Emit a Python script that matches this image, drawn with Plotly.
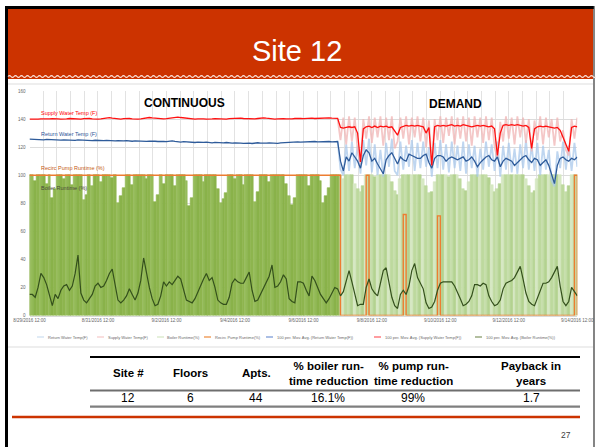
import pandas as pd
import plotly.graph_objects as go

W, H = 596, 447

# 2-hour samples, 8/29/2016 12:00 -> 9/14/2016 12:00 (one row = one day)
START = "2016-08-29 12:00"
N_POINTS = 193
SWITCH = "2016-09-07 12:00"   # continuous -> demand

supply_ma = [
    140.0, 139.8, 140.1, 139.9, 140.2, 140.0, 139.8, 140.1, 140.3, 140.5, 140.2, 140.0,
    139.9, 140.1, 140.4, 140.2, 140.0, 139.8, 140.0, 140.3, 140.6, 140.4, 140.1, 139.9,
    140.0, 140.2, 140.5, 140.8, 141.0, 140.7, 140.4, 140.1, 140.0, 140.3, 140.6, 140.4,
    140.1, 139.9, 140.0, 140.2, 140.6, 140.9, 141.1, 140.8, 140.5, 140.2, 140.0, 140.1,
    140.3, 140.6, 140.9, 141.2, 141.4, 141.1, 140.8, 140.5, 140.3, 140.1, 140.0, 140.2,
    140.4, 140.2, 140.0, 139.9, 140.1, 140.3, 140.2, 140.0, 139.8, 140.0, 140.3, 140.5,
    140.8, 141.0, 140.7, 140.4, 140.2, 140.0, 139.9, 140.1, 140.4, 140.7, 140.9, 140.6,
    140.3, 140.1, 140.0, 140.2, 140.5, 140.3, 140.1, 140.0, 140.2, 140.4, 140.6, 140.5,
    140.3, 140.5, 140.8, 140.6, 140.4, 140.5, 140.7, 140.9, 141.0, 140.8, 140.6, 140.5,
    140.5, 134.0, 133.5, 134.0, 134.5, 134.0, 134.5, 130.0, 109.5, 133.0, 134.5, 135.0,
    134.0, 135.0, 134.0, 135.0, 134.5, 135.0, 134.0, 134.5, 131.0, 128.5, 134.0, 135.0,
    135.5, 135.0, 135.5, 135.0, 135.5, 135.0, 134.5, 130.0, 134.0, 107.0, 134.5, 135.5,
    135.0, 135.5, 135.0, 135.5, 136.0, 135.0, 135.5, 135.0, 136.0, 135.5, 135.0, 134.5,
    135.0, 135.5, 135.0, 135.5, 135.0, 134.5, 135.0, 133.0, 114.0, 130.0, 135.5, 136.0,
    135.5, 136.0, 135.5, 136.0, 135.5, 135.0, 135.5, 134.0, 119.0, 133.0, 134.5, 135.0,
    134.5, 135.0, 134.5, 134.0, 133.5, 134.0, 132.0, 127.0, 122.0, 117.0, 134.0, 135.0,
    134.5,
]

return_ma = [
    125.7, 125.5, 125.6, 125.3, 125.4, 125.2, 125.5, 125.3, 125.1, 125.4, 125.2, 125.0,
    125.1, 124.9, 125.2, 125.0, 124.8, 125.1, 124.9, 124.7, 125.0, 124.8, 124.6, 124.9,
    124.7, 124.9, 124.6, 124.8, 124.5, 124.7, 124.4, 124.6, 124.3, 124.5, 124.7, 124.4,
    124.2, 124.5, 124.3, 124.6, 124.4, 124.1, 124.3, 124.5, 124.2, 124.0, 124.3, 124.1,
    123.9, 124.2, 124.4, 124.1, 123.8, 123.6, 123.9, 123.7, 123.4, 123.6, 123.3, 123.5,
    123.2, 123.4, 123.6, 123.3, 123.1, 123.4, 123.2, 122.9, 123.1, 123.3, 123.0, 122.8,
    123.0, 123.2, 122.9, 122.7, 123.0, 122.8, 122.6, 122.9, 123.1, 122.8, 122.6, 122.9,
    123.1, 122.8, 122.5, 122.7, 123.0, 123.2, 123.4, 123.1, 123.3, 123.6, 123.8, 123.5,
    123.7, 123.9, 123.6, 123.8, 124.0, 123.7, 123.9, 124.1, 123.8, 124.0, 123.7, 123.9,
    124.0, 110, 103, 113, 110, 116, 113, 110, 105, 114, 118, 116,
    110, 112, 108, 104, 101, 111, 114, 116, 112, 108, 113, 111,
    110, 115, 114, 113, 112, 112, 114, 115, 109, 105, 112, 114,
    114, 113, 110, 112, 113, 112, 111, 112, 113, 110, 111, 113,
    110, 106, 109, 111, 113, 114, 111, 110, 113, 106, 110, 112,
    111, 110, 107, 109, 111, 113, 114, 111, 109, 112, 111, 107,
    109, 111, 107, 101, 94, 107, 112, 113, 111, 110, 112, 111,
    113,
]

boiler_ma = [
    15, 15, 13, 20, 30, 27, 22, 14, 7, 15, 12, 18,
    21, 22, 18, 21, 30, 43, 16, 11, 9, 12, 15, 21,
    23, 20, 21, 25, 30, 33, 22, 11, 9, 11, 14, 19,
    15, 11, 16, 25, 41, 30, 20, 12, 7, 8, 14, 24,
    21, 24, 22, 25, 28, 26, 18, 11, 10, 9, 12, 17,
    22, 26, 30, 25, 27, 20, 11, 9, 8, 8, 13, 23,
    26, 24, 23, 23, 27, 31, 18, 10, 11, 15, 20, 23,
    28, 36, 20, 21, 24, 29, 26, 12, 10, 9, 24, 24,
    23, 18, 14, 28, 25, 20, 15, 12, 9, 12, 16, 20,
    19, 14, 17, 25, 32, 24, 15, 7, 8, 8, 20, 26,
    19, 16, 14, 22, 32, 34, 22, 13, 7, 5, 15, 18,
    15, 21, 32, 37, 27, 23, 19, 9, 5, 6, 10, 18,
    23, 24, 24, 24, 24, 21, 17, 12, 7, 8, 10, 14,
    22, 22, 21, 23, 22, 14, 10, 7, 8, 11, 19, 23,
    24, 25, 27, 31, 35, 26, 16, 10, 8, 7, 12, 18,
    23, 23, 24, 27, 31, 35, 21, 10, 7, 10, 20, 17,
    14,
]

boiler_raw = [
    100, 100, 96, 100, 100, 100, 94, 100, 84, 90, 100, 100,
    97, 100, 100, 93, 100, 100, 100, 82, 86, 100, 92, 100,
    100, 95, 100, 100, 100, 98, 100, 80, 85, 91, 100, 100,
    93, 100, 100, 100, 100, 97, 100, 100, 81, 86, 100, 94,
    100, 100, 100, 92, 100, 100, 100, 96, 78, 84, 100, 100,
    100, 95, 100, 100, 100, 100, 90, 80, 83, 87, 100, 100,
    97, 100, 100, 93, 100, 100, 100, 81, 88, 100, 100, 100,
    95, 100, 100, 100, 100, 100, 94, 85, 79, 84, 100, 100,
    100, 100, 92, 100, 100, 100, 96, 80, 85, 91, 100, 100,
    100, 100, 97, 100, 100, 100, 94, 90, 88, 92, 100, 100,
    100, 99, 100, 100, 100, 100, 100, 95, 89, 86, 97, 100,
    100, 100, 100, 100, 100, 100, 97, 92, 87, 88, 95, 100,
    100, 100, 100, 99, 100, 100, 100, 97, 90, 89, 95, 100,
    100, 100, 100, 100, 100, 98, 93, 88, 90, 94, 100, 100,
    100, 100, 100, 100, 100, 100, 97, 92, 87, 89, 97, 100,
    100, 100, 100, 100, 100, 100, 100, 93, 88, 92, 100, 100,
    100,
]

pump_runtime = [
    100, 100, 100, 100, 100, 100, 100, 100, 100, 100, 100, 100,
    100, 100, 100, 100, 100, 100, 100, 100, 100, 100, 100, 100,
    100, 100, 100, 100, 100, 100, 100, 100, 100, 100, 100, 100,
    100, 100, 100, 100, 100, 100, 100, 100, 100, 100, 100, 100,
    100, 100, 100, 100, 100, 100, 100, 100, 100, 100, 100, 100,
    100, 100, 100, 100, 100, 100, 100, 100, 100, 100, 100, 100,
    100, 100, 100, 100, 100, 100, 100, 100, 100, 100, 100, 100,
    100, 100, 100, 100, 100, 100, 100, 100, 100, 100, 100, 100,
    100, 100, 100, 100, 100, 100, 100, 100, 100, 100, 100, 100,
    100, 0, 0, 0, 0, 0, 0, 0, 0, 0, 100, 0,
    0, 0, 0, 0, 0, 0, 0, 0, 0, 0, 0, 72,
    0, 0, 0, 0, 0, 0, 0, 0, 0, 0, 0, 71,
    0, 0, 0, 0, 0, 0, 0, 0, 0, 0, 0, 0,
    0, 0, 0, 0, 0, 0, 0, 0, 0, 0, 0, 0,
    0, 0, 0, 0, 0, 0, 0, 0, 0, 0, 0, 0,
    0, 0, 0, 0, 0, 0, 0, 0, 0, 0, 0, 100,
    0,
]

# raw temperatures, only visible apart from the averages in the demand period (from 9/7 12:00)
supply_raw = [
    140, 125, 141, 122, 142, 124, 141, 118, 108, 140, 126, 142,
    123, 141, 127, 142, 121, 141, 125, 142, 119, 124, 141, 126,
    142, 122, 141, 127, 142, 124, 141, 120, 139, 107, 140, 125,
    142, 123, 141, 128, 142, 122, 141, 126, 142, 124, 141, 121,
    142, 127, 141, 123, 142, 125, 141, 120, 112, 138, 124, 142,
    126, 141, 122, 142, 127, 141, 123, 140, 117, 139, 125, 142,
    122, 141, 127, 140, 121, 141, 124, 132, 118, 114, 140, 126,
    141,
]
return_raw = [
    124, 104, 100, 122, 103, 124, 105, 121, 101, 125, 107, 126,
    102, 122, 100, 118, 99, 123, 106, 126, 103, 100, 124, 104,
    121, 106, 125, 103, 123, 105, 124, 106, 120, 99, 123, 105,
    125, 104, 122, 102, 124, 105, 121, 103, 124, 101, 122, 105,
    121, 99, 119, 104, 124, 106, 122, 103, 124, 99, 121, 104,
    123, 102, 119, 101, 122, 105, 125, 104, 121, 103, 123, 100,
    121, 104, 118, 96, 92, 117, 105, 124, 104, 121, 103, 123,
    106,
]

x_tick_labels = ["8/29/2016 12:00", "8/31/2016 12:00", "9/2/2016 12:00", "9/4/2016 12:00",
                 "9/6/2016 12:00", "9/8/2016 12:00", "9/10/2016 12:00", "9/12/2016 12:00",
                 "9/14/2016 12:00"]
y_ticks = [0, 20, 40, 60, 80, 100, 120, 140, 160]

legend_names = ["Return Water Temp(F)", "Supply Water Temp(F)", "Boiler Runtime(%)",
                "Recirc Pump Runtime(%)", "100 per. Mov. Avg. (Return Water Temp(F))",
                "100 per. Mov. Avg. (Supply Water Temp(F))", "100 per. Mov. Avg. (Boiler Runtime(%))"]

table_header = ["Site #", "Floors", "Apts.", "% boiler run-<br>time reduction",
                "% pump run-<br>time reduction", "Payback in<br>years"]
table_row = ["12", "6", "44", "16.1%", "99%", "1.7"]

FONT = "Liberation Sans, Arial, sans-serif"


def px(x):
    return x / W


def py(y):
    return 1 - y / H


def pline(x0, y0, x1, y1, color, width):
    return dict(type='line', xref='paper', yref='paper', x0=px(x0), x1=px(x1), y0=py(y0), y1=py(y1),
                line=dict(color=color, width=width))


def prect(x0, y0, x1, y1, color):
    return dict(type='rect', xref='paper', yref='paper', x0=px(x0), x1=px(x1), y0=py(y0), y1=py(y1),
                fillcolor=color, line=dict(width=0))


def ptext(x, y, text, size, color, anchor='center'):
    return dict(x=px(x), y=py(y), xref='paper', yref='paper', text=text, showarrow=False,
                xanchor=anchor, yanchor='middle', font=dict(family=FONT, size=size, color=color))


times = pd.date_range(START, periods=N_POINTS, freq="2h")
switch = pd.Timestamp(SWITCH)
demand_times = times[times >= switch]

cont_shades = ["#8DB54E", "#96BC5B", "#89B24A"]
dem_shades = ["#C6DEAB", "#B3D290", "#D6E8C3", "#BDD99E"]
bar_colors = []
for i, t in enumerate(times):
    if t <= switch:
        bar_colors.append(cont_shades[i % 3])
    else:
        bar_colors.append(dem_shades[i % 4])

fig = go.Figure()

fig.add_trace(go.Bar(x=times, y=boiler_raw, name=legend_names[2],
                     marker=dict(color=bar_colors, line=dict(width=0.6, color=bar_colors))))
fig.add_trace(go.Scatter(x=demand_times, y=return_raw, mode='lines', name=legend_names[0],
                         line=dict(color="rgba(170,200,235,0.75)", width=1.8)))
fig.add_trace(go.Scatter(x=demand_times, y=supply_raw, mode='lines', name=legend_names[1],
                         line=dict(color="rgba(240,180,180,0.75)", width=1.8)))
fig.add_trace(go.Scatter(x=times, y=pump_runtime, mode='lines', name=legend_names[3],
                         line=dict(color="#ED7D31", width=1.4, shape='hv')))
fig.add_trace(go.Scatter(x=times, y=return_ma, mode='lines', name=legend_names[4],
                         line=dict(color="#2E5B9A", width=1.3)))
fig.add_trace(go.Scatter(x=times, y=supply_ma, mode='lines', name=legend_names[5],
                         line=dict(color="#FF1010", width=1.3)))
fig.add_trace(go.Scatter(x=times, y=boiler_ma, mode='lines', name=legend_names[6],
                         line=dict(color="#34501C", width=1.2)))

shapes = []
# slide frame and title bar
shapes.append(prect(8, 9, 593, 79, "#CC3300"))
shapes.append(prect(5, 6, 8, 447, "black"))
shapes.append(prect(5, 6, 594, 9, "black"))
shapes.append(pline(594, 6, 594, 447, "#333333", 1.2))
# scalloped edge under the title
path = "M {:.5f},{:.5f}".format(px(8), py(76.5))
xs = 8
while xs < 592:
    path += " Q {:.5f},{:.5f} {:.5f},{:.5f}".format(px(xs + 1.5), py(74.6), px(xs + 3), py(76.5))
    path += " Q {:.5f},{:.5f} {:.5f},{:.5f}".format(px(xs + 4.5), py(78.4), px(xs + 6), py(76.5))
    xs += 6
shapes.append(dict(type='path', xref='paper', yref='paper', path=path,
                   line=dict(color="#FBE6DE", width=1.2)))
# chart picture border lines
shapes.append(pline(8, 84, 593, 84, "#DDDDDD", 1))
shapes.append(pline(8, 347, 593, 347, "#DDDDDD", 1))
# table rules
shapes.append(pline(90, 357, 580, 357, "black", 2))
shapes.append(pline(90, 390.5, 580, 390.5, "#6E6E6E", 2.2))
shapes.append(pline(90, 406.7, 580, 406.7, "#7F7F7F", 2.2))
shapes.append(pline(12, 417, 580, 417, "#CC3300", 2.5))

# legend (drawn by hand: samples are short in the original)
legend_colors = ["#D6E4F3", "#F7D3D3", "#DDEBCF", "#F0A060", "#8FAADC", "#FF7C80", "#9AAA80"]
legend_x = [37, 97, 157, 204, 266, 374, 475]
for lx, lc in zip(legend_x, legend_colors):
    shapes.append(pline(lx, 337, lx + 7, 337, lc, 1.5))

annotations = []
annotations.append(ptext(297, 51, "Site 12", 29, "white"))
annotations.append(ptext(184, 103, "<b>CONTINUOUS</b>", 12, "black"))
annotations.append(ptext(455, 104, "<b>DEMAND</b>", 12, "black"))

series_labels = [("Supply Water Temp (F)", 113, "#FF0000"),
                 ("Return Water Temp (F)", 134, "#2F5597"),
                 ("Recirc Pump Runtime (%)", 168, "#C55A11"),
                 ("Boiler Runtime (%)", 188, "#4A4A3A")]
for txt, ly, lc in series_labels:
    annotations.append(ptext(39, ly, txt, 5.5, lc, 'left'))

for lx, name in zip(legend_x, legend_names):
    annotations.append(ptext(lx + 8.5, 337, name, 4.0, "#6A6A6A", 'left'))

col_x = [128, 190, 256, 328, 413, 531]
for cx, head, val in zip(col_x, table_header, table_row):
    annotations.append(ptext(cx, 373, "<b>" + head + "</b>", 11.5, "black"))
    annotations.append(ptext(cx, 398, val, 12, "black"))

annotations.append(ptext(566, 435, "27", 8.5, "#404040"))

fig.update_layout(
    width=W, height=H,
    margin=dict(l=0, r=0, t=0, b=0, pad=0, autoexpand=False),
    paper_bgcolor="white",
    plot_bgcolor="rgba(0,0,0,0)",
    bargap=0,
    showlegend=False,
    font=dict(family=FONT, size=5, color="#595959"),
    shapes=shapes,
    annotations=annotations,
)

fig.update_xaxes(
    domain=[px(29.5), px(577.3)],
    automargin=False,
    type='date',
    range=[pd.Timestamp(START), pd.Timestamp("2016-09-14 12:00")],
    tickvals=pd.to_datetime(x_tick_labels, format="%m/%d/%Y %H:%M"),
    ticktext=x_tick_labels,
    tickfont=dict(size=4.5, color="#666666"),
    ticks="",
    showgrid=True, gridcolor="#E2E2E2", gridwidth=1,
    minor=dict(dtick=34560000, tick0=START, showgrid=True, gridcolor="#E2E2E2", gridwidth=1),
    showline=True, linecolor="#D9D9D9",
    zeroline=False,
)
fig.update_yaxes(
    domain=[py(315.5), py(91)],
    automargin=False,
    range=[0, 160],
    tickvals=y_ticks,
    tickfont=dict(size=4.5, color="#666666"),
    ticks="",
    ticklabelstandoff=3,
    showgrid=True, gridcolor="#DCDCDC", gridwidth=1,
    zeroline=False,
)

# the page has the browser's default 8px body margin; drop it so the slide fills the window
fig.write_html("out.html",
               config={"displayModeBar": False},
               post_script="document.body.style.margin='0px';"
                           "document.documentElement.style.overflow='hidden';")
